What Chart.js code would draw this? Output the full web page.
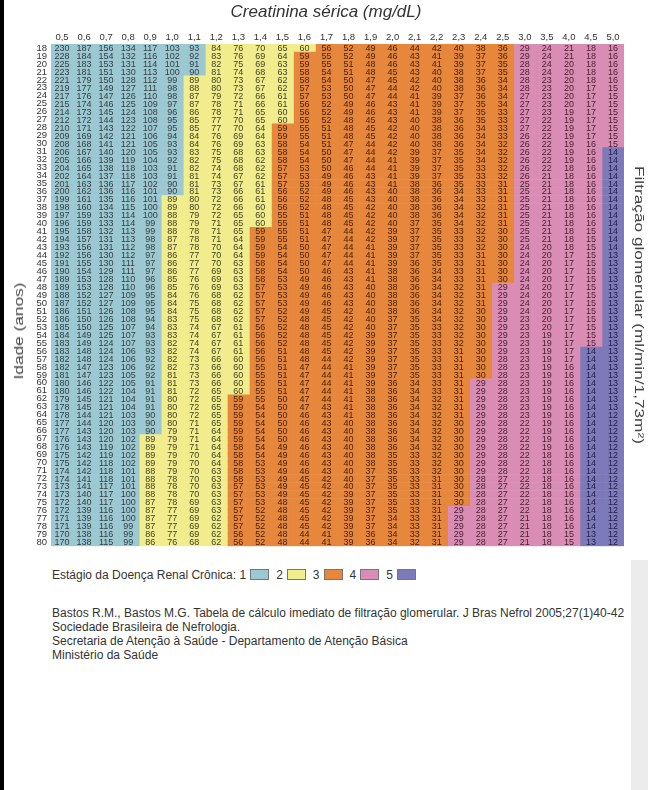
<!DOCTYPE html>
<html>
<head>
<meta charset="utf-8">
<script src="https://cdn.jsdelivr.net/npm/chart.js@4.4.0/dist/chart.umd.min.js"></script>
<style>
  body { margin:0; background:#fff; width:648px; height:790px; overflow:hidden; position:relative;
         font-family:"Liberation Sans", Arial, Helvetica, sans-serif; color:#333; }
  #edge { position:absolute; left:0; top:0; width:4px; height:790px; background:#000; }
  #shade { position:absolute; left:631px; top:560px; width:17px; height:230px; background:#ececec; }
  #wrap { position:absolute; left:0; top:0; width:648px; height:556px; }
  .side { position:absolute; color:#444; white-space:nowrap; font-size:12.5px; }
  #ylab { left:19px; top:331px; transform:translate(-50%,-50%) rotate(-90deg) scaleX(1.38); }
  #rlab { left:639px; top:305px; transform:translate(-50%,-50%) rotate(90deg) scaleX(1.38); }
  #legend { position:absolute; left:52px; top:568px; font-size:12px; line-height:14px; }
  .box { display:inline-block; width:17px; height:9px; border:1px solid #777; vertical-align:-1px; margin:0 7px 0 4px; }
  #refs { position:absolute; left:52px; top:606px; font-size:12px; line-height:14px; }
</style>
</head>
<body>
<div id="edge"></div>
<div id="shade"></div>
<div id="wrap"><canvas id="grid"></canvas></div>
<div class="side" id="ylab">Idade (anos)</div>
<div class="side" id="rlab">Filtração glomerular (ml/min/1,73m²)</div>
<div id="legend"></div>
<div id="refs">
  Bastos R.M., Bastos M.G. Tabela de cálculo imediato de filtração glomerular. J Bras Nefrol 2005;27(1)40-42<br>
  Sociedade Brasileira de Nefrologia.<br>
  Secretaria de Atenção à Saúde - Departamento de Atenção Básica<br>
  Ministério da Saúde
</div>
<script>
const creatinine = ['0,5','0,6','0,7','0,8','0,9','1,0','1,1','1,2','1,3','1,4','1,5','1,6','1,7',
                    '1,8','1,9','2,0','2,1','2,2','2,3','2,4','2,5','3,0','3,5','4,0','4,5','5,0'];
const ages = ['18','19','20','21','22','23','24','25','26','27','28','29','30','31','32','33','34',
              '35','36','37','38','39','40','41','42','43','44','45','46','47','48','49','50','51',
              '52','53','54','55','56','57','58','59','60','61','62','63','64','65','66','67','68',
              '69','70','71','72','73','74','75','76','77','78','79','80'];
// filtração glomerular, one line per age, one value per creatinine column
const gfr = [
  [230,187,156,134,117,103,93,84,76,70,65,60,56,52,49,46,44,42,40,38,36,29,24,21,18,16],
  [228,184,154,132,116,102,92,83,76,69,64,59,55,52,49,46,43,41,39,37,36,29,24,21,18,16],
  [225,183,153,131,114,101,91,82,75,69,63,59,55,51,48,46,43,41,39,37,35,28,24,20,18,16],
  [223,181,151,130,113,100,90,81,74,68,63,58,54,51,48,45,43,40,38,37,35,28,24,20,18,16],
  [221,179,150,128,112,99,89,80,73,67,62,58,54,50,47,45,42,40,38,36,34,28,23,20,18,16],
  [219,177,149,127,111,98,88,80,73,67,62,57,53,50,47,44,42,40,38,36,34,28,23,20,17,15],
  [217,176,147,126,110,98,87,79,72,66,61,57,53,50,47,44,41,39,37,36,34,27,23,20,17,15],
  [215,174,146,125,109,97,87,78,71,66,61,56,52,49,46,43,41,39,37,35,34,27,23,20,17,15],
  [214,173,145,124,108,96,86,78,71,65,60,56,52,49,46,43,41,39,37,35,33,27,23,19,17,15],
  [212,172,144,123,108,95,85,77,70,65,60,55,52,48,45,43,40,38,36,35,33,27,22,19,17,15],
  [210,171,143,122,107,95,85,77,70,64,59,55,51,48,45,42,40,38,36,34,33,27,22,19,17,15],
  [209,169,142,121,106,94,84,76,69,64,59,55,51,48,45,42,40,38,36,34,33,26,22,19,17,15],
  [208,168,141,121,105,93,84,76,69,63,58,54,51,47,44,42,40,38,36,34,32,26,22,19,16,15],
  [206,167,140,120,105,93,83,75,68,63,58,54,50,47,44,42,39,37,35,34,32,26,22,19,16,14],
  [205,166,139,119,104,92,82,75,68,62,58,54,50,47,44,41,39,37,35,34,32,26,22,19,16,14],
  [204,165,138,118,103,91,82,74,68,62,57,53,50,46,44,41,39,37,35,33,32,26,22,18,16,14],
  [202,164,137,118,103,91,81,74,67,62,57,53,49,46,43,41,39,37,35,33,32,26,21,18,16,14],
  [201,163,136,117,102,90,81,73,67,61,57,53,49,46,43,41,38,36,35,33,31,25,21,18,16,14],
  [200,162,136,116,101,90,81,73,66,61,56,52,49,46,43,40,38,36,34,33,31,25,21,18,16,14],
  [199,161,135,116,101,89,80,72,66,61,56,52,48,45,43,40,38,36,34,33,31,25,21,18,16,14],
  [198,160,134,115,100,89,80,72,66,60,56,52,48,45,42,40,38,36,34,32,31,25,21,18,16,14],
  [197,159,133,114,100,88,79,72,65,60,55,51,48,45,42,40,38,36,34,32,31,25,21,18,16,14],
  [196,159,133,114,99,88,79,71,65,60,55,51,48,45,42,40,37,35,34,32,31,25,21,18,16,14],
  [195,158,132,113,99,88,78,71,65,59,55,51,47,44,42,39,37,35,33,32,30,25,21,18,15,14],
  [194,157,131,113,98,87,78,71,64,59,55,51,47,44,42,39,37,35,33,32,30,25,21,18,15,14],
  [193,156,131,112,98,87,78,70,64,59,54,50,47,44,41,39,37,35,33,32,30,24,20,18,15,14],
  [192,156,130,112,97,86,77,70,64,59,54,50,47,44,41,39,37,35,33,31,30,24,20,17,15,13],
  [191,155,130,111,97,86,77,70,63,58,54,50,47,44,41,39,36,35,33,31,30,24,20,17,15,13],
  [190,154,129,111,97,86,77,69,63,58,54,50,46,43,41,38,36,34,33,31,30,24,20,17,15,13],
  [189,153,128,110,96,85,76,69,63,58,53,49,46,43,41,38,36,34,33,31,30,24,20,17,15,13],
  [189,153,128,110,96,85,76,69,63,57,53,49,46,43,40,38,36,34,32,31,29,24,20,17,15,13],
  [188,152,127,109,95,84,76,68,62,57,53,49,46,43,40,38,36,34,32,31,29,24,20,17,15,13],
  [187,152,127,109,95,84,75,68,62,57,53,49,46,43,40,38,36,34,32,31,29,24,20,17,15,13],
  [186,151,126,108,95,84,75,68,62,57,52,49,45,42,40,38,36,34,32,30,29,24,20,17,15,13],
  [186,150,126,108,94,83,75,68,62,57,52,48,45,42,40,37,35,34,32,30,29,23,20,17,15,13],
  [185,150,125,107,94,83,74,67,61,56,52,48,45,42,40,37,35,33,32,30,29,23,20,17,15,13],
  [184,149,125,107,93,83,74,67,61,56,52,48,45,42,39,37,35,33,32,30,29,23,19,17,15,13],
  [183,149,124,107,93,82,74,67,61,56,52,48,45,42,39,37,35,33,32,30,29,23,19,17,15,13],
  [183,148,124,106,93,82,74,67,61,56,51,48,45,42,39,37,35,33,31,30,29,23,19,17,14,13],
  [182,148,124,106,92,82,73,66,60,56,51,48,44,42,39,37,35,33,31,30,28,23,19,17,14,13],
  [182,147,123,106,92,82,73,66,60,55,51,47,44,41,39,37,35,33,31,30,28,23,19,16,14,13],
  [181,147,123,105,92,81,73,66,60,55,51,47,44,41,39,37,35,33,31,30,28,23,19,16,14,13],
  [180,146,122,105,91,81,73,66,60,55,51,47,44,41,39,36,34,33,31,29,28,23,19,16,14,13],
  [180,146,122,104,91,81,72,65,60,55,51,47,44,41,38,36,34,33,31,29,28,23,19,16,14,13],
  [179,145,121,104,91,80,72,65,59,55,50,47,44,41,38,36,34,32,31,29,28,23,19,16,14,13],
  [178,145,121,104,91,80,72,65,59,54,50,47,43,41,38,36,34,32,31,29,28,23,19,16,14,13],
  [178,144,121,103,90,80,72,65,59,54,50,46,43,41,38,36,34,32,31,29,28,23,19,16,14,12],
  [177,144,120,103,90,80,71,65,59,54,50,46,43,40,38,36,34,32,30,29,28,22,19,16,14,12],
  [177,143,120,103,90,79,71,64,59,54,50,46,43,40,38,36,34,32,30,29,28,22,19,16,14,12],
  [176,143,120,102,89,79,71,64,59,54,50,46,43,40,38,36,34,32,30,29,28,22,19,16,14,12],
  [176,143,119,102,89,79,71,64,58,54,49,46,43,40,38,36,34,32,30,29,28,22,19,16,14,12],
  [175,142,119,102,89,79,70,64,58,54,49,46,43,40,38,35,33,32,30,29,28,22,18,16,14,12],
  [175,142,118,102,89,79,70,64,58,53,49,46,43,40,38,35,33,32,30,29,28,22,18,16,14,12],
  [174,142,118,101,88,79,70,63,58,53,49,46,43,40,37,35,33,32,30,29,28,22,18,16,14,12],
  [174,141,118,101,88,78,70,63,58,53,49,45,42,40,37,35,33,31,30,28,27,22,18,16,14,12],
  [173,141,117,101,88,78,70,63,57,53,49,45,42,40,37,35,33,31,30,28,27,22,18,16,14,12],
  [173,140,117,100,88,78,70,63,57,53,49,45,42,39,37,35,33,31,30,28,27,22,18,16,14,12],
  [172,140,117,100,87,78,69,63,57,53,48,45,42,39,37,35,33,31,30,28,27,22,18,16,14,12],
  [172,139,116,100,87,77,69,63,57,52,48,45,42,39,37,35,33,31,29,28,27,22,18,16,14,12],
  [171,139,116,100,87,77,69,62,57,52,48,45,42,39,37,34,33,31,29,28,27,21,18,16,14,12],
  [171,139,116,99,87,77,69,62,57,52,48,45,42,39,37,34,33,31,29,28,27,21,18,16,14,12],
  [170,138,116,99,86,77,69,62,56,52,48,44,41,39,36,34,33,31,29,28,27,21,18,15,13,12],
  [170,138,115,99,86,76,68,62,56,52,48,44,41,39,36,34,32,31,29,28,27,21,18,15,13,12]
];
const stageNames = ['1','2','3','4','5'];
const stageMin = [90, 60, 30, 15, 0];
const stageColors = ['#9cc8d1','#f1ec8c','#e6873b','#da8db4','#7d7aba'];
const stageInk = ['#333d42','#44402a','#45210e','#461e30','#221e48'];

function stageOf(v) {
  for (let s = 0; s < stageMin.length; s++) if (v >= stageMin[s]) return s;
  return stageMin.length - 1;
}

Chart.defaults.font.family = '"Liberation Sans", Arial, Helvetica, sans-serif';
Chart.defaults.color = '#333';

// each column of the table is one stacked dataset, one unit wide
var datasets = creatinine.map(function(c, j) {
  return {
    label: c,
    data: gfr.map(function() { return 1; }),
    backgroundColor: function(ctx) { return stageColors[stageOf(gfr[ctx.dataIndex][j])]; },
    borderWidth: 0,
    barPercentage: 1,
    categoryPercentage: 1
  };
});

const cellText = {
  id: 'cellText',
  afterDatasetsDraw(chart) {
    const ctx = chart.ctx;
    ctx.save();
    ctx.font = '9px "Liberation Sans", Arial, sans-serif';
    ctx.textAlign = 'center';
    ctx.textBaseline = 'middle';
    chart.data.datasets.forEach(function(ds, j) {
      chart.getDatasetMeta(j).data.forEach(function(bar, i) {
        const v = gfr[i][j];
        ctx.fillStyle = stageInk[stageOf(v)];
        ctx.fillText(String(v), (bar.x + bar.base) / 2, bar.y + 0.5);
      });
    });
    ctx.restore();
  }
};

new Chart(document.getElementById('grid'), {
  type: 'bar',
  data: { labels: ages, datasets: datasets },
  options: {
    indexAxis: 'y',
    responsive: true,
    maintainAspectRatio: false,
    animation: false,
    layout: { padding: { left: 4, right: 0, top: 0, bottom: 7 } },
    plugins: {
      legend: { display: false },
      tooltip: { enabled: false },
      title: {
        display: true,
        text: 'Creatinina sérica (mg/dL)',
        font: { size: 17, style: 'italic', weight: 'normal' },
        color: '#333',
        padding: { top: 2, bottom: 4 }
      }
    },
    scales: {
      x: { stacked: true, display: false, min: 0, max: creatinine.length },
      x2: {
        type: 'category', labels: creatinine, position: 'top', offset: true,
        grid: { display: false, drawTicks: false }, border: { display: false },
        ticks: { font: { size: 9.5 }, color: '#333', padding: 1, maxRotation: 0, autoSkip: false },
        afterFit: function(s) { s.height = 44 - 26.4; }
      },
      y: {
        stacked: true,
        grid: { display: false, drawTicks: false }, border: { display: false },
        ticks: { font: { size: 9.5 }, color: '#333', padding: 4, autoSkip: false },
        afterFit: function(s) { s.width = 47; }
      },
      y2: {
        type: 'category', labels: ages, position: 'right', offset: true,
        grid: { display: false, drawTicks: false }, border: { display: false },
        ticks: { display: false },
        afterFit: function(s) { s.width = 24; }
      }
    }
  },
  plugins: [cellText]
});

// legend: stage number then its colour box
var lg = document.getElementById('legend');
lg.appendChild(document.createTextNode('Estágio da Doença Renal Crônica: '));
stageNames.forEach(function(n, s) {
  lg.appendChild(document.createTextNode(n));
  var b = document.createElement('span');
  b.className = 'box';
  b.style.background = stageColors[s];
  lg.appendChild(b);
});
</script>
</body>
</html>
